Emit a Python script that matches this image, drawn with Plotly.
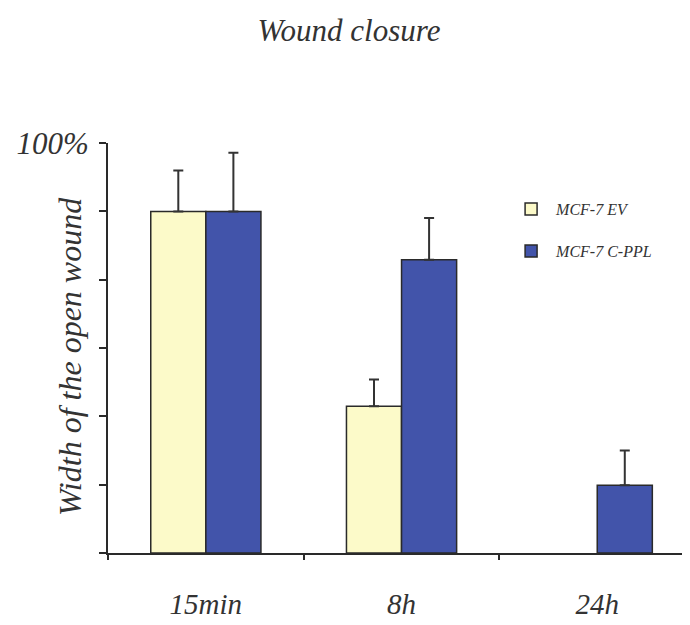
import plotly.graph_objects as go

categories = ["15min", "8h", "24h"]
ev_values = [83.3, 35.8, None]
ev_errors = [10.0, 6.5, None]
ppl_values = [83.3, 71.5, 16.5]
ppl_errors = [14.3, 10.2, 8.5]
y_tickvals = [0, 16.67, 33.33, 50, 66.67, 83.33, 100]
y_ticktext = ["", "", "", "", "", "", "100%"]

FONT = "Liberation Serif, Times New Roman, serif"
TXT = "#333333"

fig = go.Figure()
fig.add_trace(go.Bar(
    x=categories, y=ev_values, name="<i>MCF-7 EV</i>",
    marker=dict(color="#fcfac9", line=dict(color="#2a2a2a", width=1.5)),
    error_y=dict(type="data", array=ev_errors, symmetric=False, arrayminus=[0, 0, 0],
                 color="#333333", thickness=2, width=5, visible=True),
    legendgroup="a",
))
fig.add_trace(go.Bar(
    x=categories, y=ppl_values, name="<i>MCF-7 C-PPL</i>",
    marker=dict(color="#4254aa", line=dict(color="#2a2a2a", width=1.5)),
    error_y=dict(type="data", array=ppl_errors, symmetric=False, arrayminus=[0, 0, 0],
                 color="#333333", thickness=2, width=5, visible=True),
    legendgroup="b",
))

fig.update_layout(
    width=682, height=617,
    margin=dict(l=100, r=0, t=135, b=72),
    paper_bgcolor="white", plot_bgcolor="white",
    barmode="group", bargap=0.437, bargroupgap=0,
    font=dict(family=FONT, color=TXT),
    title=dict(text="<i>Wound closure</i>", x=0.5, xanchor="center",
               y=1 - 22/617, yanchor="middle", font=dict(size=31, family=FONT, color=TXT)),
    showlegend=True,
    legend=dict(x=0.684, y=0.88, xanchor="left", yanchor="top",
                font=dict(size=16, family=FONT, color=TXT),
                bgcolor="rgba(0,0,0,0)", tracegroupgap=18, traceorder="grouped",
                itemwidth=40),
    xaxis=dict(range=[-0.5, 2.474], showline=True, linecolor="#2a2a2a", linewidth=2,
               ticks="outside", tickson="boundaries", ticklen=5, tickcolor="#2a2a2a",
               tickwidth=2, showgrid=False, ticklabelstandoff=24,
               tickfont=dict(size=29, family=FONT, color=TXT),
               ticktext=["<i>15min</i>", "<i>8h</i>", "<i>24h</i>"],
               tickvals=categories, tickmode="array"),
    yaxis=dict(range=[0, 100], showline=True, linecolor="#2a2a2a", linewidth=2,
               ticks="outside", ticklen=7, tickcolor="#2a2a2a", tickwidth=2,
               showgrid=False, zeroline=False, tickmode="array", ticklabelstandoff=4,
               tickvals=y_tickvals, ticktext=["<i>%s</i>" % t if t else "" for t in y_ticktext],
               tickfont=dict(size=31, family=FONT, color=TXT)),
    annotations=[dict(text="<i>Width of the open wound</i>", xref="paper", yref="paper",
                      x=(62 - 100) / 582, y=0.478, xanchor="center", yanchor="middle",
                      textangle=-90, showarrow=False,
                      font=dict(size=32, family=FONT, color=TXT))],
)

fig.write_html("out.html")
